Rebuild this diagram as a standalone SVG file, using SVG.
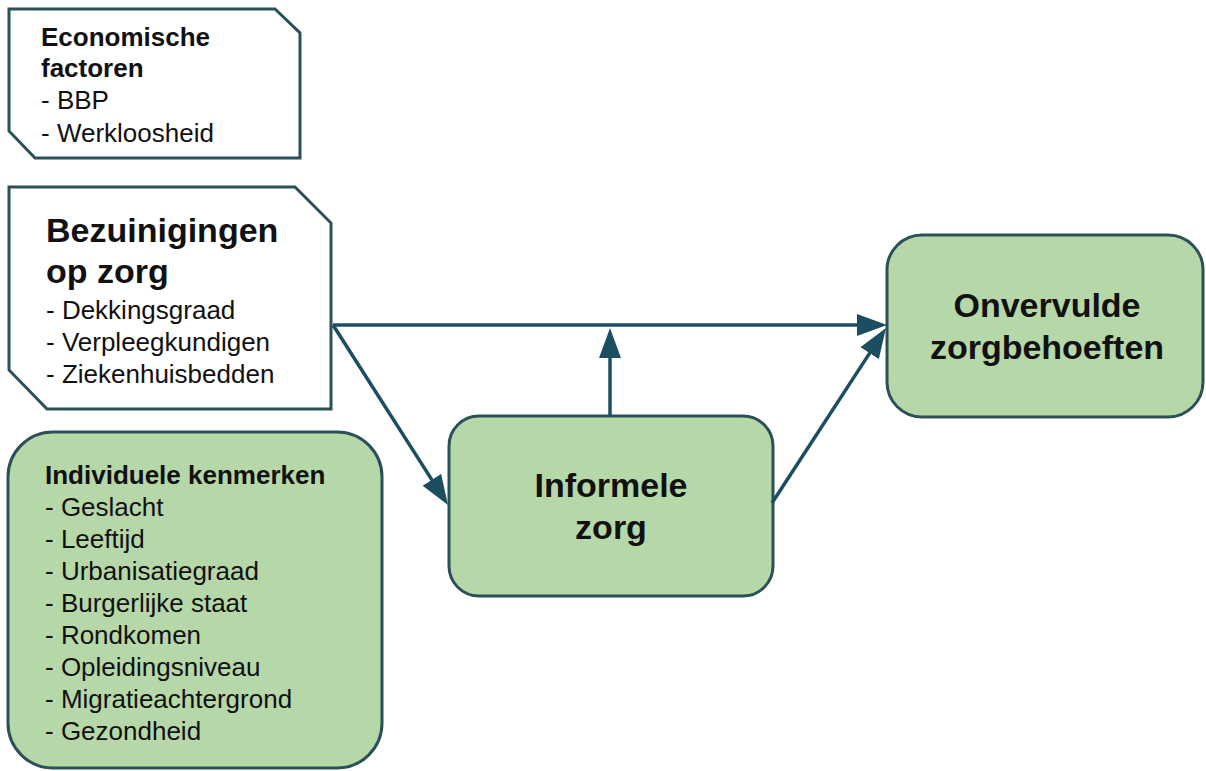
<svg xmlns="http://www.w3.org/2000/svg" width="1206" height="771" viewBox="0 0 1206 771">
<style>
.box{fill:#ffffff;stroke:#2b5058;stroke-width:3}
.green{fill:#b6d7a8;stroke:#2b5058;stroke-width:3}
.t{font-family:"Liberation Sans",Arial,sans-serif;fill:#111111;font-size:26px}
.b{font-weight:bold}
.big{font-family:"Liberation Sans",Arial,sans-serif;fill:#111111;font-size:34px;font-weight:bold}
.c{text-anchor:middle}
.conn{stroke:#1b4f5f;stroke-width:3.5;fill:none;marker-end:url(#arr)}
</style>
<defs>
<marker id="arr" viewBox="0 0 30 22" refX="15" refY="11" markerWidth="30" markerHeight="22" markerUnits="userSpaceOnUse" orient="auto">
<path d="M0,0 L30,11 L0,22 Z" fill="#1b4f5f"/>
</marker>
</defs>
<rect width="1206" height="771" fill="#ffffff"/>
<g id="economische">
<path class="box" d="M9,9 L275,9 L300,33 L300,158 L35,158 L9,131 Z"/>
<text class="t b" x="41" y="46">Economische</text>
<text class="t b" x="41" y="77">factoren</text>
<text class="t" x="41" y="109">- BBP</text>
<text class="t" x="41" y="142">- Werkloosheid</text>
</g>
<g id="bezuinigingen">
<path class="box" d="M9,187 L295,187 L331,223 L331,409 L47,409 L9,370 Z"/>
<text class="big" x="46" y="242">Bezuinigingen</text>
<text class="big" x="46" y="283">op zorg</text>
<text class="t" x="46" y="319">- Dekkingsgraad</text>
<text class="t" x="46" y="351">- Verpleegkundigen</text>
<text class="t" x="46" y="383">- Ziekenhuisbedden</text>
</g>
<g id="individuele">
<rect class="green" x="8" y="432" width="374" height="336" rx="45" ry="45"/>
<text class="t b" x="45" y="484">Individuele kenmerken</text>
<text class="t" x="45" y="516">- Geslacht</text>
<text class="t" x="45" y="548">- Leeftijd</text>
<text class="t" x="45" y="580">- Urbanisatiegraad</text>
<text class="t" x="45" y="612">- Burgerlijke staat</text>
<text class="t" x="45" y="644">- Rondkomen</text>
<text class="t" x="45" y="676">- Opleidingsniveau</text>
<text class="t" x="45" y="708">- Migratieachtergrond</text>
<text class="t" x="45" y="740">- Gezondheid</text>
</g>
<g id="informele">
<rect class="green" x="449" y="416" width="324" height="180" rx="30" ry="30"/>
<text class="big c" x="611" y="497">Informele</text>
<text class="big c" x="611" y="539">zorg</text>
</g>
<g id="onvervulde">
<rect class="green" x="887" y="235" width="316" height="182" rx="35" ry="35"/>
<text class="big c" x="1047" y="317">Onvervulde</text>
<text class="big c" x="1047" y="359">zorgbehoeften</text>
</g>
<g id="connectors">
<line class="conn" x1="333" y1="325" x2="872" y2="325"/>
<line class="conn" x1="610" y1="416" x2="610" y2="343"/>
<line class="conn" x1="333" y1="325" x2="439.9" y2="492.4"/>
<line class="conn" x1="772" y1="503" x2="877.8" y2="340.6"/>
</g>
</svg>
